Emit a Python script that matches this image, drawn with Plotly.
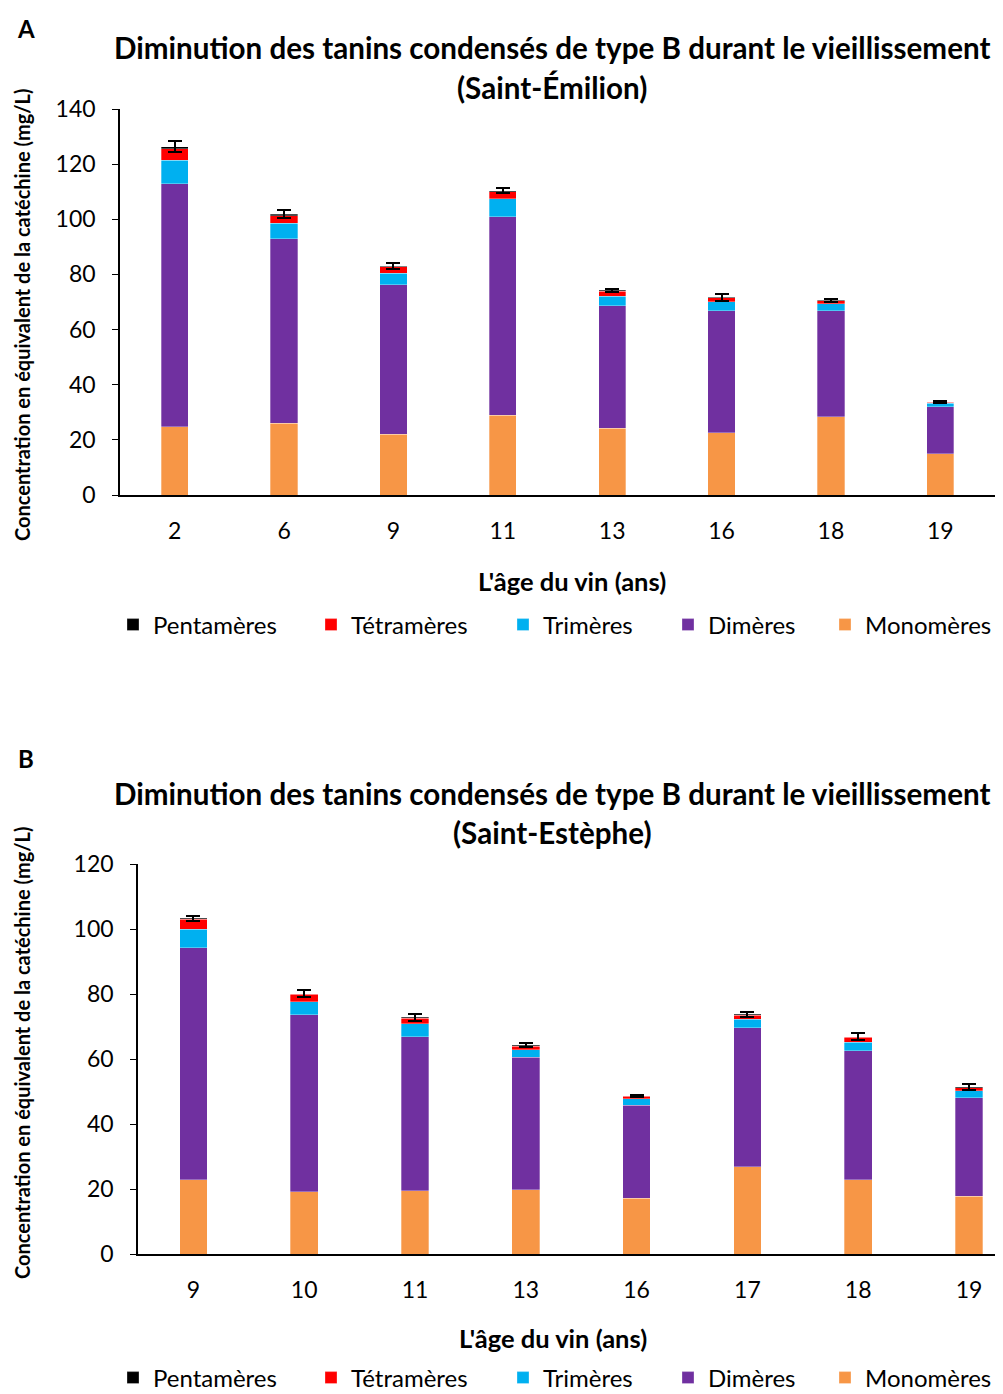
import plotly.graph_objects as go

# ---------------- data ----------------
ages_A = ["2", "6", "9", "11", "13", "16", "18", "19"]
mono_A = [24.7, 26.1, 22.1, 29.0, 24.3, 22.5, 28.3, 14.9]
di_A = [88.1, 66.9, 54.1, 71.9, 44.4, 44.4, 38.6, 17.1]
tri_A = [8.7, 5.5, 4.2, 6.5, 3.4, 3.2, 2.4, 1.3]
tetra_A = [4.0, 2.7, 2.3, 2.6, 1.8, 1.4, 1.1, 0.3]
penta_A = [0.8, 0.6, 0.3, 0.4, 0.3, 0.2, 0.2, 0.1]
err_A = [2.0, 1.5, 1.2, 0.9, 0.6, 1.2, 0.6, 0.4]

ages_B = ["9", "10", "11", "13", "16", "17", "18", "19"]
mono_B = [22.8, 19.1, 19.4, 19.7, 17.2, 26.8, 22.8, 17.8]
di_B = [71.4, 54.5, 47.5, 40.9, 28.6, 42.8, 39.8, 30.3]
tri_B = [5.8, 4.0, 3.9, 2.2, 1.9, 2.6, 2.5, 2.1]
tetra_B = [3.0, 2.3, 1.8, 1.2, 0.8, 1.3, 1.6, 1.0]
penta_B = [0.3, 0.2, 0.3, 0.3, 0.2, 0.2, 0.2, 0.2]
err_B = [0.8, 1.0, 1.1, 0.7, 0.3, 0.8, 1.0, 0.9]

series_names = ["Monomères", "Dimères", "Trimères", "Tétramères", "Pentamères"]
colors = ["#F79646", "#7030A0", "#00B0F0", "#FF0000", "#000000"]

title_text = "Diminution des tanins condensés de type B durant le vieillissement"
ytitle = "Concentration en équivalent de la catéchine (mg/L)"
xtitle = "L'âge du vin (ans)"

FONT = "Lato"
# the page body has an 8px margin: the figure starts at (8, 8) in the window
OFF = 8
W, H = 1003 - OFF, 1394 - OFF


def px(x):
    return (x - OFF) / W


def py(y):
    return 1 - (y - OFF) / H


# text start x-positions of the legend entries (Monomères ... Pentamères order)
legend_text_x = [865, 708, 543, 351, 153]
TEXT_OFFSET = 40

fig = go.Figure()
layout_legends = {}
lg_index = 2
for panel, ages, vals, err, xa, ya, leg_y in [
    ("A", ages_A, [mono_A, di_A, tri_A, tetra_A, penta_A], err_A, "x", "y", 625),
    ("B", ages_B, [mono_B, di_B, tri_B, tetra_B, penta_B], err_B, "x2", "y2", 1378),
]:
    for i, (name, col, v) in enumerate(zip(series_names, colors, vals)):
        kw = {}
        if name == "Pentamères":
            kw["error_y"] = dict(type="data", array=err, visible=True,
                                 color="black", thickness=2, width=7)
        lg = f"legend{lg_index}"
        fig.add_trace(go.Bar(
            x=ages, y=v, name=name,
            marker=dict(color=col, line=dict(width=0.5, color="rgba(255,255,255,0.6)")),
            xaxis=xa, yaxis=ya, legend=lg, showlegend=True, **kw))
        layout_legends[lg] = dict(
            orientation="h", x=px(legend_text_x[i] - TEXT_OFFSET), y=py(leg_y),
            xanchor="left", yanchor="middle", font=dict(family=FONT, size=24),
            itemwidth=30, bgcolor="rgba(0,0,0,0)", borderwidth=0)
        lg_index += 1

axis_font = dict(family=FONT, size=23, color="black")

fig.update_layout(
    width=W, height=H,
    margin=dict(l=0, r=0, t=0, b=0, autoexpand=False),
    paper_bgcolor="white", plot_bgcolor="white",
    barmode="stack", bargap=0.75, showlegend=True,
    font=dict(family=FONT, color="black"),
    xaxis=dict(domain=[px(120), px(995)], type="category", showline=True,
               linecolor="black", linewidth=1.5, ticks="", tickfont=axis_font,
               showgrid=False, anchor="y", range=[-0.5, 7.5], automargin=False,
               ticklabelstandoff=15),
    yaxis=dict(domain=[py(495), py(109)], range=[0, 140], dtick=20, showline=True,
               linecolor="black", linewidth=1.5, ticks="outside", ticklen=6,
               tickcolor="black", tickfont=axis_font, showgrid=False,
               zeroline=False, anchor="x", ticklabelstandoff=12, automargin=False),
    xaxis2=dict(domain=[px(138), 1], type="category", showline=True,
                linecolor="black", linewidth=1.5, ticks="", tickfont=axis_font,
                showgrid=False, anchor="y2", range=[-0.5, 7.38 - 8 / 109.7], automargin=False,
                ticklabelstandoff=15),
    yaxis2=dict(domain=[py(1254), py(864)], range=[0, 120], dtick=20, showline=True,
                linecolor="black", linewidth=1.5, ticks="outside", ticklen=6,
                tickcolor="black", tickfont=axis_font, showgrid=False,
                zeroline=False, anchor="x2", ticklabelstandoff=12, automargin=False),
    **layout_legends,
)

ann = []
for lab, ylab, yt1, yt2, sub, cxt, ycx, yyt, xtx in [
    ("A", 28, 48, 87, "(Saint-Émilion)", 552, 581, 315, 572),
    ("B", 758, 793, 832, "(Saint-Estèphe)", 552, 1338, 1053, 553),
]:
    ann.append(dict(text=f"<b>{lab}</b>", x=px(26), y=py(ylab), xref="paper", yref="paper",
                    showarrow=False, font=dict(family=FONT, size=24), xanchor="center", yanchor="middle"))
    ann.append(dict(text=f"<b>{title_text}</b>", x=px(cxt), y=py(yt1), xref="paper", yref="paper",
                    showarrow=False, font=dict(family=FONT, size=29.6), xanchor="center", yanchor="middle"))
    ann.append(dict(text=f"<b>{sub}</b>", x=px(cxt), y=py(yt2), xref="paper", yref="paper",
                    showarrow=False, font=dict(family=FONT, size=29.6), xanchor="center", yanchor="middle"))
    ann.append(dict(text=f"<b>{xtitle}</b>", x=px(xtx), y=py(ycx), xref="paper", yref="paper",
                    showarrow=False, font=dict(family=FONT, size=25.5), xanchor="center", yanchor="middle"))
    ann.append(dict(text=f"<b>{ytitle}</b>", x=px(22), y=py(yyt), xref="paper", yref="paper",
                    showarrow=False, textangle=-90, font=dict(family=FONT, size=20),
                    xanchor="center", yanchor="middle"))
fig.update_layout(annotations=ann)

fig.write_html("out.html")
